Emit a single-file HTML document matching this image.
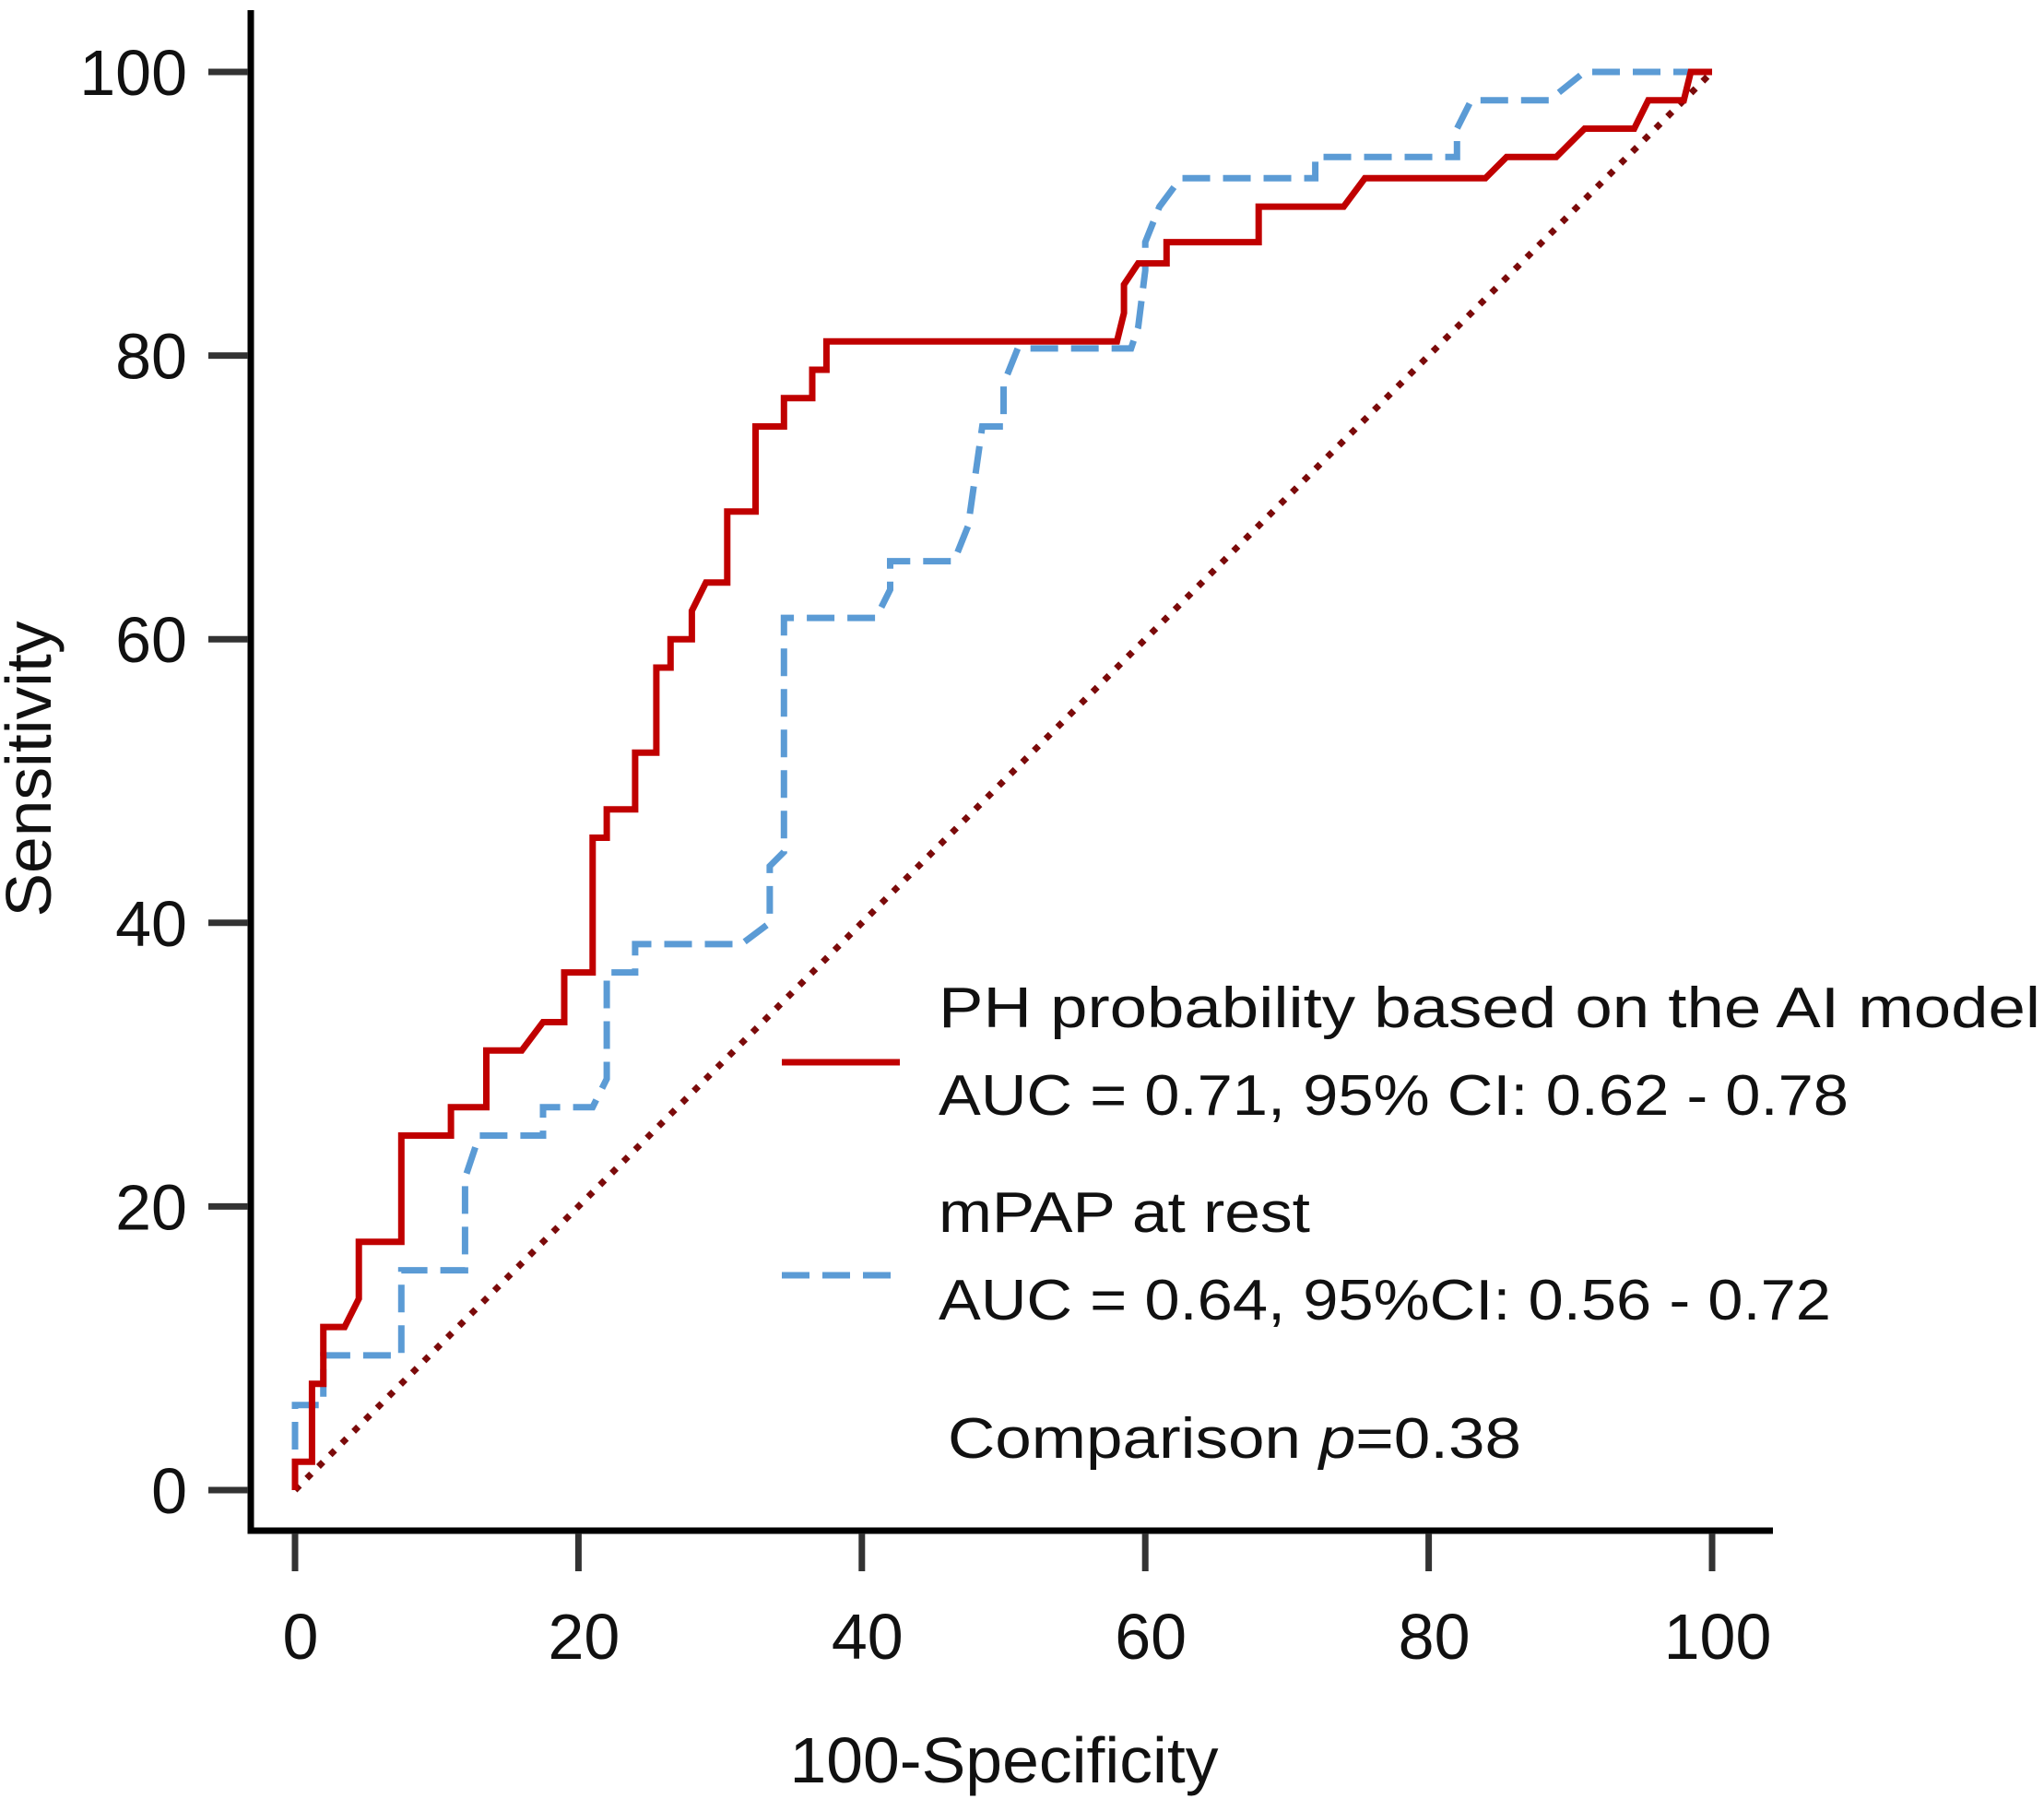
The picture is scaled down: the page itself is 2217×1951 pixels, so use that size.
<!DOCTYPE html>
<html><head><meta charset="utf-8"><style>
html,body{margin:0;padding:0;background:#fff;}
svg{display:block;font-family:"Liberation Sans",sans-serif;}
</style></head><body>
<svg id="chart" width="2217" height="1951" viewBox="0 0 2217 1951">
<g id="axes"></g>
<g id="series"></g>
<text x="1089" y="1933" font-size="70" text-anchor="middle" fill="#111" textLength="465" lengthAdjust="spacingAndGlyphs">100-Specificity</text>
<text x="0" y="0" font-size="70" text-anchor="middle" fill="#111" transform="translate(55,834) rotate(-90)" textLength="321" lengthAdjust="spacingAndGlyphs">Sensitivity</text>
<g>
<line x1="848" y1="1152" x2="976" y2="1152" stroke="#c00000" stroke-width="7"/>
<line x1="848" y1="1383" x2="976" y2="1383" stroke="#5b9bd5" stroke-width="7" stroke-dasharray="30 14"/>
<text x="1018" y="1114" font-size="62" fill="#111" textLength="1195" lengthAdjust="spacingAndGlyphs">PH probability based on the AI model</text>
<text x="1018" y="1209" font-size="62" fill="#111" textLength="987" lengthAdjust="spacingAndGlyphs">AUC = 0.71, 95% CI: 0.62 - 0.78</text>
<text x="1018" y="1336" font-size="62" fill="#111" textLength="403" lengthAdjust="spacingAndGlyphs">mPAP at rest</text>
<text x="1018" y="1431" font-size="62" fill="#111" textLength="968" lengthAdjust="spacingAndGlyphs">AUC = 0.64, 95%CI: 0.56 - 0.72</text>
<text x="1028" y="1581" font-size="62" fill="#111" textLength="622" lengthAdjust="spacingAndGlyphs">Comparison <tspan font-style="italic">p</tspan>=0.38</text>
</g>
</svg>
<script>
const xTicks = [0, 20, 40, 60, 80, 100];
const yTicks = [0, 20, 40, 60, 80, 100];
const aiX = [0,0,1.2,1.2,2,2,3.5,4.5,4.5,7.5,7.5,11,11,13.5,13.5,16,17.5,19,19,21,21,22,22,24,24,25.5,25.5,26.5,26.5,28,28,29,30.5,30.5,32.5,32.5,34.5,34.5,36.5,36.5,37.5,37.5,58,58.5,58.5,59.5,61.5,61.5,68,68,74,75.5,84,85.5,89,91,94.5,95.5,98,98.5,100];
const aiY = [0,2,2,7.5,7.5,11.5,11.5,13.5,17.5,17.5,25,25,27,27,31,31,33,33,36.5,36.5,46,46,48,48,52,52,58,58,60,60,62,64,64,69,69,75,75,77,77,79,79,81,81,83,85,86.5,86.5,88,88,90.5,90.5,92.5,92.5,94,94,96,96,98,98,100,100];
const mpX = [0,0,2,2,7.5,7.5,12,12,13,17.5,17.5,21,22,22,24,24,31.5,33.5,33.5,34.5,34.5,41,42,42,46.5,47.5,48.5,50,50,51,59,59.5,60,60,61,62.5,72,72,82,82,83,88.5,91,100];
const mpY = [0,6,6,9.5,9.5,15.5,15.5,22,25,25,27,27,29,36.5,36.5,38.5,38.5,40,44,45,61.5,61.5,63.5,65.5,65.5,68,75,75,78,80.5,80.5,82,86,88,90.5,92.5,92.5,94,94,96,98,98,100,100];
const refX = [0, 100];
const refY = [0, 100];

const X0 = 320, X1 = 1857, Y0 = 1616, Y1 = 78;
const sx = v => X0 + (X1 - X0) * v / 100;
const sy = v => Y0 - (Y0 - Y1) * v / 100;
const NS = 'http://www.w3.org/2000/svg';
function mk(tag, attrs, parent) {
  const e = document.createElementNS(NS, tag);
  for (const k in attrs) e.setAttribute(k, attrs[k]);
  parent.appendChild(e);
  return e;
}
const axes = document.getElementById('axes');
const series = document.getElementById('series');

const ya = mk('path', {d: 'M272 11 V1660 H1923', fill: 'none', stroke: '#000', 'stroke-width': 7}, axes);



xTicks.forEach(t => {
  const l = mk('line', {x1: sx(t), y1: 1663, x2: sx(t), y2: 1704, stroke: '#333', 'stroke-width': 7}, axes);
  
  
  const tx = mk('text', {x: sx(t) + 6, y: 1799, 'font-size': 70, 'text-anchor': 'middle', fill: '#111'}, axes);
  
  
  tx.textContent = t;
});
yTicks.forEach(t => {
  const l = mk('line', {x1: 226, y1: sy(t), x2: 269, y2: sy(t), stroke: '#333', 'stroke-width': 7}, axes);
  
  
  const tx = mk('text', {x: 203, y: sy(t) + 25, 'font-size': 70, 'text-anchor': 'end', fill: '#111'}, axes);
  
  
  tx.textContent = t;
});

function pathD(xs, ys) {
  return xs.map((v, i) => (i ? 'L' : 'M') + sx(v).toFixed(1) + ' ' + sy(ys[i]).toFixed(1)).join(' ');
}
const ref = mk('path', {d: pathD(refX, refY), fill: 'none', stroke: '#7b0a0a', 'stroke-width': 7, 'stroke-dasharray': '7 11'}, series);


const mp = mk('path', {d: pathD(mpX, mpY), fill: 'none', stroke: '#5b9bd5', 'stroke-width': 7, 'stroke-dasharray': '30 14'}, series);


const ai = mk('path', {d: pathD(aiX, aiY), fill: 'none', stroke: '#c00000', 'stroke-width': 7}, series);


</script>
</body></html>
